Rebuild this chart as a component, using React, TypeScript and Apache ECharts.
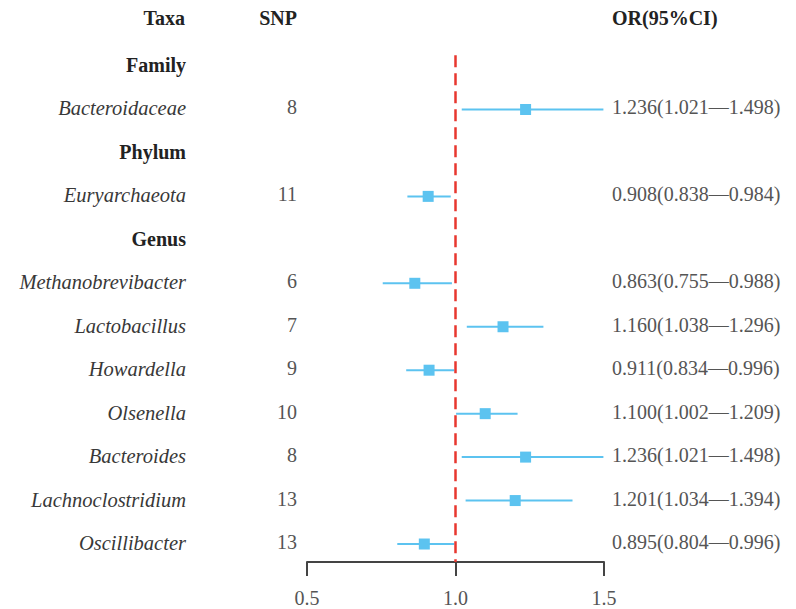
import React, { useEffect, useRef } from "react";
import * as echarts from "echarts";

const rowLabels = [
  "Family",
  "Bacteroidaceae",
  "Phylum",
  "Euryarchaeota",
  "Genus",
  "Methanobrevibacter",
  "Lactobacillus",
  "Howardella",
  "Olsenella",
  "Bacteroides",
  "Lachnoclostridium",
  "Oscillibacter",
];
const rowIsGroup = [true, false, true, false, true, false, false, false, false, false, false, false];
const snpCounts: (number | null)[] = [null, 8, null, 11, null, 6, 7, 9, 10, 8, 13, 13];
const orValues: (number | null)[] = [null, 1.236, null, 0.908, null, 0.863, 1.16, 0.911, 1.1, 1.236, 1.201, 0.895];
const ciLower: (number | null)[] = [null, 1.021, null, 0.838, null, 0.755, 1.038, 0.834, 1.002, 1.021, 1.034, 0.804];
const ciUpper: (number | null)[] = [null, 1.498, null, 0.984, null, 0.988, 1.296, 0.996, 1.209, 1.498, 1.394, 0.996];
const xTicks = [0.5, 1.0, 1.5];
const headers = { taxa: "Taxa", snp: "SNP", or: "OR(95%CI)" };

const FONT = "Liberation Serif";
const BLUE = "#5cc3f0";

export default function App() {
  const ref = useRef<HTMLDivElement>(null);
  useEffect(() => {
    if (!ref.current) return;
    const chart = echarts.init(ref.current, null, { renderer: "svg" });

    const textData = rowLabels.map((_, i) => [i]);
    const ciData = rowLabels
      .map((_, i) => (orValues[i] != null ? [ciLower[i], ciUpper[i], i] : null))
      .filter((d) => d) as number[][];
    const pointData = rowLabels
      .map((_, i) => (orValues[i] != null ? [orValues[i], i] : null))
      .filter((d) => d) as number[][];

    const mkText = (x: number, y: number, text: string, align: string, extra: any) => ({
      type: "text",
      x,
      y,
      style: {
        text,
        align,
        textAlign: align,
        verticalAlign: "middle",
        textVerticalAlign: "middle",
        fontFamily: FONT,
        ...extra,
      },
    });

    const headStyle = { fontSize: 20, fontWeight: "bold", fill: "#222" };

    chart.setOption({
      animation: false,
      backgroundColor: "#ffffff",
      textStyle: { fontFamily: FONT },
      grid: { left: 307, right: 192, top: 44.3, bottom: 47 },
      xAxis: {
        type: "value",
        position: "bottom",
        min: 0.5,
        max: 1.5,
        interval: 0.5,
        splitLine: { show: false },
        axisLine: { show: true, onZero: false, lineStyle: { color: "#444", width: 2 } },
        axisTick: { show: true, length: 14, lineStyle: { color: "#444", width: 2 } },
        axisLabel: {
          margin: 26,
          color: "#555",
          fontFamily: FONT,
          fontSize: 20,
          formatter: (v: number) => (xTicks.includes(v) ? v.toFixed(1) : ""),
        },
      },
      yAxis: {
        type: "value",
        inverse: true,
        min: -0.5,
        max: 11.414,
        show: false,
      },
      graphic: [
        mkText(185, 18, headers.taxa, "right", headStyle),
        mkText(297, 18, headers.snp, "right", headStyle),
        mkText(612, 18, headers.or, "left", headStyle),
      ],
      series: [
        {
          type: "custom",
          data: ciData,
          renderItem: (params: any, api: any) => {
            const i = api.value(2);
            const p1 = api.coord([api.value(0), i]);
            const p2 = api.coord([api.value(1), i]);
            return {
              type: "line",
              shape: { x1: p1[0], y1: p1[1], x2: p2[0], y2: p2[1] },
              style: { stroke: BLUE, lineWidth: 2 },
            };
          },
          z: 2,
        },
        {
          type: "scatter",
          data: pointData,
          symbol: "rect",
          symbolSize: 11,
          itemStyle: { color: BLUE, opacity: 1 },
          z: 3,
          markLine: {
            silent: true,
            symbol: "none",
            label: { show: false },
            lineStyle: { color: "#e8372f", width: 2.5, type: [12, 6] },
            data: [[{ coord: [1, -0.25] }, { coord: [1, 11.414] }]],
          },
        },
        {
          type: "custom",
          data: textData,
          clip: false,
          renderItem: (params: any, api: any) => {
            const i = api.value(0);
            const y = api.coord([1, i])[1];
            const children: any[] = [];
            if (rowIsGroup[i]) {
              children.push(mkText(186, y - 1, rowLabels[i], "right", headStyle));
            } else {
              children.push(mkText(186, y - 1, rowLabels[i], "right", { fontSize: 20.5, fontStyle: "italic", fill: "#383838" }));
            }
            if (snpCounts[i] != null) {
              children.push(mkText(297, y - 2, String(snpCounts[i]), "right", { fontSize: 20, fill: "#555" }));
            }
            if (orValues[i] != null) {
              const t = `${(orValues[i] as number).toFixed(3)}(${(ciLower[i] as number).toFixed(3)}\u2014${(ciUpper[i] as number).toFixed(3)})`;
              children.push(mkText(612, y - 2, t, "left", { fontSize: 20, fill: "#555" }));
            }
            return { type: "group", children };
          },
          z: 4,
        },
      ],
    });
    return () => chart.dispose();
  }, []);
  return (
    <div
      ref={ref}
      style={{ position: "absolute", left: 0, top: 0, width: 796, height: 609 }}
    />
  );
}
